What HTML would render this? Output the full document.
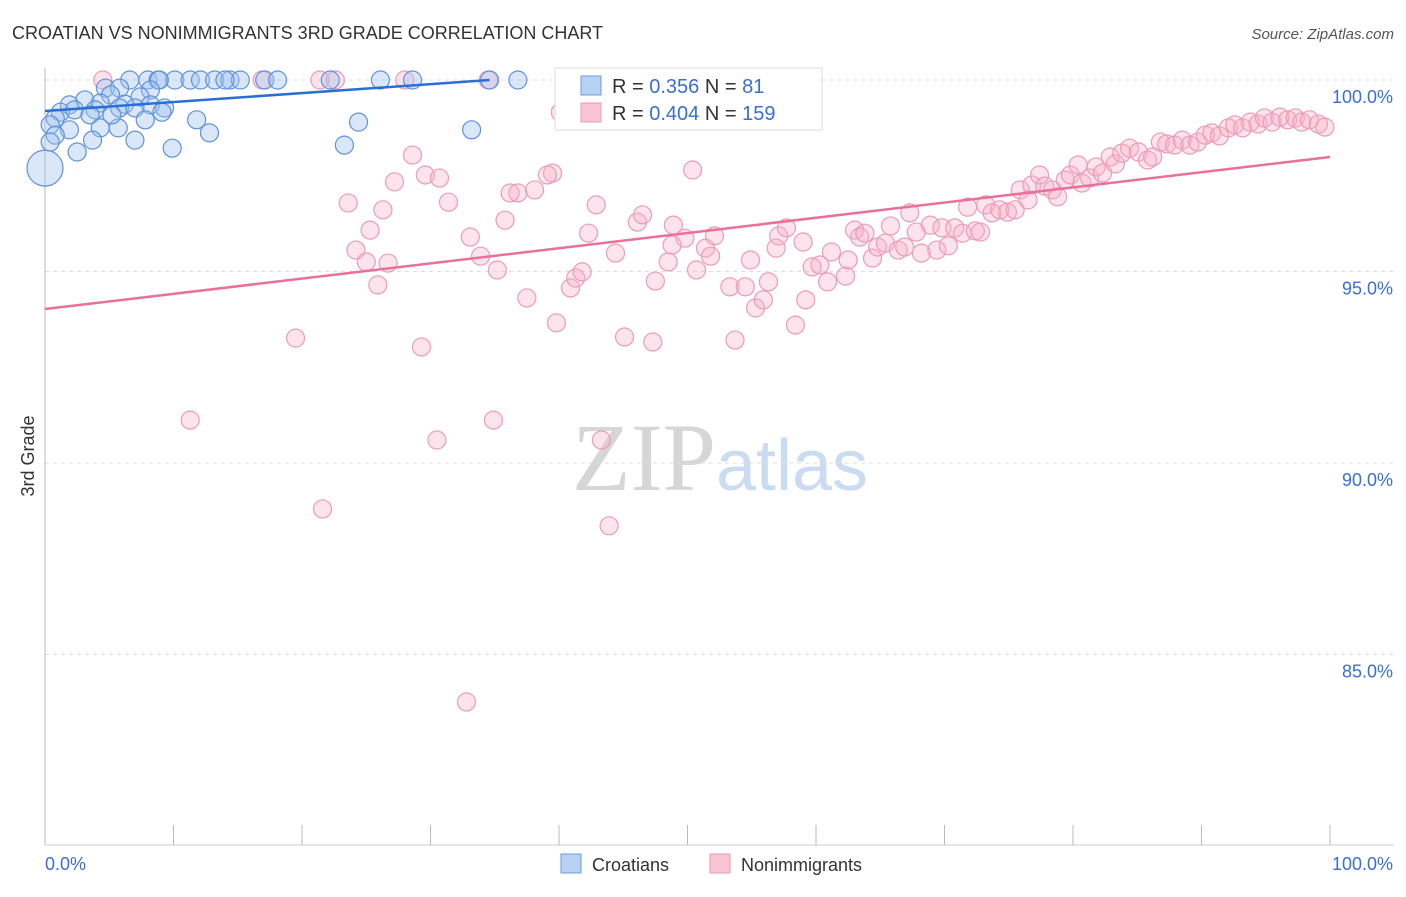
<!DOCTYPE html>
<html><head><meta charset="utf-8"><style>
body{margin:0;background:#fff;font-family:"Liberation Sans",sans-serif}
</style></head><body>
<svg id="chart" width="1406" height="892" xmlns="http://www.w3.org/2000/svg" style="font-family:'Liberation Sans',sans-serif">
<text x="12" y="39" font-size="18" fill="#333">CROATIAN VS NONIMMIGRANTS 3RD GRADE CORRELATION CHART</text>
<text x="1394" y="39" font-size="15" fill="#555" text-anchor="end" font-style="italic">Source: ZipAtlas.com</text>
<text x="720" y="490" font-size="96" fill="#ddd" text-anchor="middle" font-family="Liberation Serif"><tspan fill="#d6d6d6">ZIP</tspan><tspan fill="#c9dcf2" font-family="Liberation Sans" font-size="72">atlas</tspan></text>
<g id="grid"></g>
<g id="axes"></g>
<g id="pts"></g>
<g id="trends"></g>
<text transform="translate(34,456) rotate(-90)" font-size="18" fill="#333" text-anchor="middle">3rd Grade</text>
<g>
<rect x="555" y="68" width="267" height="62" fill="#fff" stroke="#ddd"/>
<rect x="581" y="76" width="20" height="19" fill="#b8d2f4" stroke="#6b9be0"/>
<rect x="581" y="103" width="20" height="19" fill="#f9c5d5" stroke="#e89ab4"/>
<text x="612" y="93" font-size="20" fill="#333">R = <tspan fill="#3a6fd0">0.356</tspan>    N =   <tspan fill="#3a6fd0">81</tspan></text>
<text x="612" y="120" font-size="20" fill="#333">R = <tspan fill="#3a6fd0">0.404</tspan>    N = <tspan fill="#3a6fd0">159</tspan></text>
</g>
<g>
<rect x="561" y="854" width="20" height="19" fill="#b8d2f4" stroke="#6b9be0"/>
<text x="592" y="871" font-size="18" fill="#333">Croatians</text>
<rect x="710" y="854" width="20" height="19" fill="#f9c5d5" stroke="#e89ab4"/>
<text x="741" y="871" font-size="18" fill="#333">Nonimmigrants</text>
</g>
</svg>
<script>
const yTicks=[100,95,90,85];
const yTickLabels=["100.0%","95.0%","90.0%","85.0%"];
const xTicks=[0,10,20,30,40,50,60,70,80,90,100];
const blueX=[6.6,8.0,8.8,10.1,11.3,12.1,13.2,14.4,15.2,17.1,18.1,26.1,28.6,34.6,36.8,8.9,14.0,22.2,4.7,5.8,8.2,5.1,7.4,3.1,4.3,1.9,6.2,8.2,9.3,1.2,2.3,3.9,5.8,7.0,0.8,3.5,0.4,1.9,4.3,5.7,7.8,11.8,24.4,33.2,0.8,12.8,7.0,0.4,23.3,9.9,2.5,3.7,5.2,9.1,0];
const blueY=[100,100,100,100,100,100,100,100,100,100,100,100,100,100,100,100,100,100,99.79,99.79,99.74,99.61,99.56,99.48,99.4,99.35,99.37,99.35,99.27,99.16,99.22,99.22,99.27,99.27,99.0,99.09,98.83,98.7,98.75,98.75,98.96,98.96,98.9,98.7,98.56,98.62,98.43,98.38,98.3,98.22,98.12,98.43,99.09,99.16,97.7];
const pinkX=[4.5,16.9,21.4,22.6,28.0,34.5,40.1,28.6,27.2,29.6,30.7,23.6,26.3,31.4,39.5,36.2,36.8,38.1,39.1,50.4,35.8,42.9,46.1,46.5,48.9,49.8,25.3,24.2,25.0,26.7,33.1,33.9,35.2,25.9,37.5,39.8,40.9,41.3,41.8,44.4,42.3,48.5,47.5,50.7,51.4,52.1,51.8,53.3,54.5,54.9,55.3,55.9,56.3,56.9,57.1,57.7,59.0,59.2,58.4,59.7,60.3,60.9,61.2,62.3,62.5,63.0,63.4,63.8,64.4,64.8,65.4,65.8,66.4,66.9,67.3,67.8,68.2,68.9,69.4,69.8,70.3,70.8,71.4,71.8,72.4,72.8,73.2,73.7,74.3,74.9,75.5,75.9,76.5,76.8,77.4,77.8,78.4,78.8,79.4,79.8,80.4,80.7,81.3,81.8,82.3,82.9,83.3,83.8,84.4,85.1,85.8,86.2,86.8,87.3,87.9,88.5,89.1,89.7,90.3,90.8,91.4,92.1,92.6,93.2,93.8,94.4,94.9,95.5,96.1,96.7,97.3,97.8,98.4,99.1,99.6,19.5,29.3,11.3,30.5,34.9,43.3,21.6,43.9,32.8,45.1,47.3,53.7,48.8];
const pinkY=[100,100,100,100,100,100,99.16,98.04,97.34,97.52,97.44,96.79,96.61,96.81,97.57,97.05,97.05,97.13,97.52,97.65,96.34,96.74,96.29,96.48,96.21,95.87,96.08,95.56,95.25,95.22,95.9,95.4,95.04,94.65,94.31,93.66,94.57,94.83,94.99,95.48,96.0,95.25,94.75,95.04,95.61,95.93,95.4,94.6,94.6,95.3,94.05,94.26,94.73,95.61,95.93,96.14,95.77,94.26,93.6,95.12,95.17,94.73,95.51,94.88,95.3,96.08,95.9,96.0,95.35,95.64,95.74,96.19,95.56,95.64,96.53,96.03,95.48,96.21,95.56,96.14,95.67,96.14,96.0,96.68,96.06,96.03,96.74,96.53,96.61,96.55,96.61,97.13,96.87,97.26,97.52,97.23,97.13,96.95,97.39,97.52,97.78,97.31,97.44,97.73,97.57,97.99,97.81,98.09,98.22,98.12,97.91,97.99,98.38,98.33,98.3,98.43,98.3,98.38,98.56,98.62,98.54,98.75,98.83,98.75,98.9,98.85,99.01,98.9,99.03,98.96,99.01,98.9,98.96,98.85,98.77,93.26,93.03,91.12,90.6,91.12,90.6,88.8,88.36,83.76,93.29,93.16,93.21,95.69];
const blueTrend=[[0,99.19],[34.6,100]];
const pinkTrend=[[0,94.02],[100,97.99]];
const NS="http://www.w3.org/2000/svg";
const X=v=>45+v*12.85, Y=v=>80+(100-v)*38.3;
function mk(t,a,p){const e=document.createElementNS(NS,t);for(const k in a)e.setAttribute(k,a[k]);document.getElementById(p).appendChild(e);return e;}
yTicks.forEach((t,i)=>{
 const l=mk('line',{x1:45,x2:1394,y1:Y(t),y2:Y(t),stroke:'#ddd','stroke-dasharray':'4,4'},'grid');
 
 
 const tx=mk('text',{x:1393,y:Y(t)+23,'font-size':18,fill:'#3a6fd0','text-anchor':'end'},'axes');
 tx.textContent=yTickLabels[i];
 
 
});
let ax=mk('line',{x1:45,x2:45,y1:68,y2:845,stroke:'#bbb'},'axes');


ax=mk('line',{x1:45,x2:1394,y1:845,y2:845,stroke:'#ccc'},'axes');


xTicks.forEach(t=>{
 const l=mk('line',{x1:X(t),x2:X(t),y1:825,y2:845,stroke:'#bbb'},'axes');
 
 
});
let xl=mk('text',{x:45,y:870,'font-size':18,fill:'#3a6fd0'},'axes');xl.textContent='0.0%';


xl=mk('text',{x:1393,y:870,'font-size':18,fill:'#3a6fd0','text-anchor':'end'},'axes');xl.textContent='100.0%';


pinkX.forEach((x,i)=>{
 const c=mk('circle',{cx:X(x),cy:Y(pinkY[i]),r:9,fill:'rgba(248,175,198,0.35)',stroke:'#eb9cb8','stroke-width':1.2},'pts');
 
 
});
blueX.forEach((x,i)=>{
 const c=mk('circle',{cx:X(x),cy:Y(blueY[i]),r:i==blueX.length-1?18:9,fill:'rgba(160,195,240,0.4)',stroke:'#5f92dc','stroke-width':1.2},'pts');
 
 
});
let tl=mk('line',{x1:X(blueTrend[0][0]),y1:Y(blueTrend[0][1]),x2:X(blueTrend[1][0]),y2:Y(blueTrend[1][1]),stroke:'#2a6fd6','stroke-width':2.5},'trends');


tl=mk('line',{x1:X(pinkTrend[0][0]),y1:Y(pinkTrend[0][1]),x2:X(pinkTrend[1][0]),y2:Y(pinkTrend[1][1]),stroke:'#e8709a','stroke-width':2.5},'trends');


</script>
</body></html>
